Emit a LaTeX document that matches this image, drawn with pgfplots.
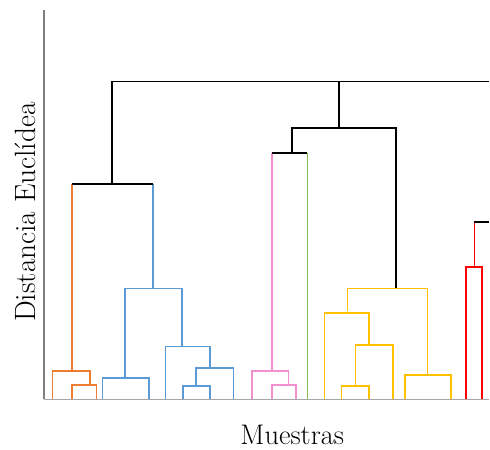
\documentclass[border=0pt]{standalone}
\usepackage{fontspec}
\usepackage{pgfplots}
\pgfplotsset{compat=1.18}
\definecolor{cOr}{HTML}{ED7D31}
\definecolor{cBl}{HTML}{5B9BD5}
\definecolor{cPk}{HTML}{F28FCF}
\definecolor{cGr}{HTML}{84BD5B}
\definecolor{cYe}{HTML}{FFC000}
\definecolor{cRd}{HTML}{FF0000}
\definecolor{cAx}{HTML}{7F7F7F}
\definecolor{cAxB}{HTML}{A6A6A6}
\begin{document}
\begin{tikzpicture}
\begin{axis}[
  scale only axis,
  width=446bp, height=390bp,
  xmin=44, xmax=490, ymin=0, ymax=390,
  axis x line*=bottom, axis y line*=left,
  x axis line style={cAxB, line width=1.2pt, -},
  y axis line style={cAx, line width=1.2pt, -},
  xtick=\empty, ytick=\empty,
  clip=false,
  every axis plot/.append style={line width=1.6pt, mark=none, line join=miter},
]
% invisible bounding frame (page extent)
\path (axis cs:0,-50) rectangle (axis cs:490,400);
% orange
\addplot[cOr] coordinates {(52.7,0) (52.7,28.3) (90,28.3) (90,14)};
\addplot[cOr] coordinates {(72.3,0) (72.3,14) (96.7,14) (96.7,0)};
\addplot[cOr] coordinates {(72.3,28.3) (72.3,216)};
% blue
\addplot[cBl] coordinates {(102.7,0) (102.7,21) (149,21) (149,0)};
\addplot[cBl] coordinates {(125.3,21) (125.3,111) (182.5,111) (182.5,53)};
\addplot[cBl] coordinates {(165.7,0) (165.7,53) (210.3,53) (210.3,31)};
\addplot[cBl] coordinates {(196.3,13.3) (196.3,31) (234,31) (234,0)};
\addplot[cBl] coordinates {(183.3,0) (183.3,13.3) (210.7,13.3) (210.7,0)};
\addplot[cBl] coordinates {(153.3,111) (153.3,216)};
% pink
\addplot[cPk] coordinates {(252.7,0) (252.7,28.3) (289,28.3) (289,14)};
\addplot[cPk] coordinates {(272.3,0) (272.3,14) (296.7,14) (296.7,0)};
\addplot[cPk] coordinates {(272.5,28.3) (272.5,247)};
% green
\addplot[cGr] coordinates {(308,0) (308,247)};
% yellow
\addplot[cYe] coordinates {(348,88) (348,111) (428.3,111) (428.3,24)};
\addplot[cYe] coordinates {(325,0) (325,86.3) (370,86.3) (370,54.3)};
\addplot[cYe] coordinates {(356,13) (356,54.3) (393.7,54.3) (393.7,0)};
\addplot[cYe] coordinates {(342.3,0) (342.3,13) (370,13) (370,0)};
\addplot[cYe] coordinates {(405.7,0) (405.7,24) (452,24) (452,0)};
% red
\addplot[cRd] coordinates {(466.7,0) (466.7,132.3) (483,132.3) (483,0)};
\addplot[cRd] coordinates {(475.3,132.3) (475.3,177.3)};
% black
\addplot[black, line width=1.9pt] coordinates {(72.3,216) (153.3,216)};
\addplot[black, line width=1.9pt] coordinates {(112.3,216) (112.3,318.3) (490,318.3)};
\addplot[black, line width=1.9pt] coordinates {(340,318.3) (340,271.3)};
\addplot[black, line width=1.9pt] coordinates {(292.7,247) (292.7,271.3) (396.7,271.3) (396.7,111)};
\addplot[black, line width=1.9pt] coordinates {(272.5,247) (308,247)};
\addplot[black, line width=1.9pt] coordinates {(475.3,177.3) (490,177.3)};
% labels
\node[anchor=base, font=\fontsize{28.5}{32}\selectfont] at (axis cs:292.8,-45) {Muestras};
\node[anchor=base, rotate=90, font=\fontsize{29.5}{32}\selectfont] at (axis cs:35.5,187.5) {Distancia Euclídea};
\end{axis}
\end{tikzpicture}
\end{document}
